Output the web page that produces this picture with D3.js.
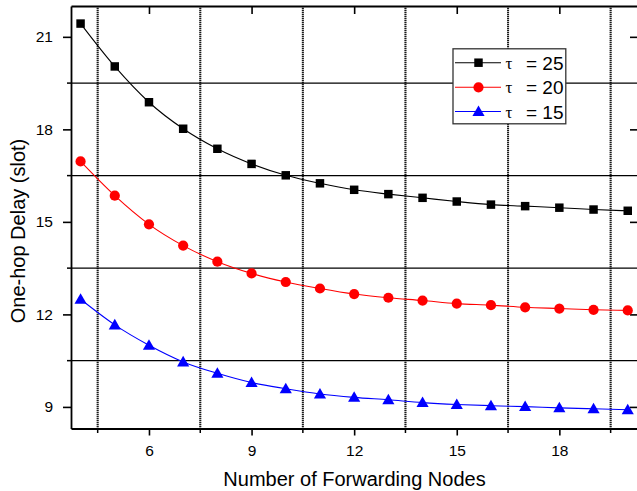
<!DOCTYPE html>
<html>
<head>
<meta charset="utf-8">
<script src="https://cdn.jsdelivr.net/npm/d3@7/dist/d3.min.js"></script>
<style>
  html, body { margin: 0; padding: 0; background: #fff; }
  svg { display: block; font-family: Arial, "Liberation Sans", sans-serif; }
</style>
</head>
<body>
<svg id="chart" width="637" height="491"></svg>
<script>
// Number of forwarding nodes
const nodes = [4, 5, 6, 7, 8, 9, 10, 11, 12, 13, 14, 15, 16, 17, 18, 19, 20];

// One-hop delay (slot) for each tau
const delayTau25 = [21.43, 20.04, 18.88, 18.02, 17.37, 16.88, 16.51, 16.25, 16.04, 15.90, 15.78, 15.66, 15.56, 15.51, 15.46, 15.40, 15.36];
const delayTau20 = [16.96, 15.85, 14.92, 14.23, 13.71, 13.33, 13.05, 12.84, 12.66, 12.54, 12.45, 12.35, 12.30, 12.23, 12.19, 12.15, 12.13];
const delayTau15 = [12.49, 11.66, 11.00, 10.46, 10.09, 9.79, 9.59, 9.42, 9.31, 9.23, 9.14, 9.08, 9.04, 9.01, 8.97, 8.94, 8.91];

const seriesNames = ["25", "20", "15"];
const seriesColors = ["#000000", "#ff0000", "#0000ff"];
const seriesShapes = ["square", "circle", "triangle"];

const xTicks = [6, 9, 12, 15, 18];
const xGrid = [4.5, 7.5, 10.5, 13.5, 16.5, 19.5];
const yTicks = [9, 12, 15, 18, 21];
const yGrid = [10.5, 13.5, 16.5, 19.5];

const svg = d3.select("#chart");
const plotL = 71, plotR = 638, plotT = 6, plotB = 428.5;

const x = d3.scaleLinear().domain([3.72, 20.3]).range([plotL, plotR]);
const y = d3.scaleLinear().domain([8.3, 22.0]).range([plotB, plotT]);

// Grid: dotted verticals (grey base with black dots), solid horizontals
const gv = svg.append("g");
gv.selectAll("line.base").data(xGrid).join("line").attr("class", "base")
  .attr("x1", d => x(d)).attr("x2", d => x(d))
  .attr("y1", plotT).attr("y2", plotB)
  .attr("stroke", "#b0b0b0").attr("stroke-width", 2);
gv.selectAll("line.dots").data(xGrid).join("line").attr("class", "dots")
  .attr("x1", d => x(d)).attr("x2", d => x(d))
  .attr("y1", plotT).attr("y2", plotB)
  .attr("stroke", "#1a1a1a").attr("stroke-width", 2)
  .attr("stroke-dasharray", "1,1");

svg.append("g").selectAll("line").data(yGrid).join("line")
  .attr("x1", plotL).attr("x2", plotR)
  .attr("y1", d => y(d)).attr("y2", d => y(d))
  .attr("stroke", "#000").attr("stroke-width", 1.1);

// Axes
const fontTick = "15.5px";
const gxb = svg.append("g").attr("transform", `translate(0,${plotB})`)
  .call(d3.axisBottom(x).tickValues(xTicks).tickSize(7).tickPadding(9).tickSizeOuter(0));
const gxt = svg.append("g").attr("transform", `translate(0,${plotT})`)
  .call(d3.axisTop(x).tickValues(xTicks).tickSize(-8).tickFormat("").tickSizeOuter(0));
const gyl = svg.append("g").attr("transform", `translate(${plotL},0)`)
  .call(d3.axisLeft(y).tickValues(yTicks).tickSize(8).tickPadding(10).tickSizeOuter(0));
const gyr = svg.append("g").attr("transform", `translate(${plotR},0)`)
  .call(d3.axisRight(y).tickValues(yTicks).tickSize(-8).tickFormat("").tickSizeOuter(0));

// Minor ticks at the grid positions
svg.append("g").selectAll("line").data(xGrid).join("line")
  .attr("x1", d => x(d)).attr("x2", d => x(d))
  .attr("y1", plotB).attr("y2", plotB + 4.5)
  .attr("stroke", "#000").attr("stroke-width", 1.5);
svg.append("g").selectAll("line").data(yGrid).join("line")
  .attr("x1", plotL - 4).attr("x2", plotL)
  .attr("y1", d => y(d)).attr("y2", d => y(d))
  .attr("stroke", "#000").attr("stroke-width", 1.5);

[gxb, gxt, gyl, gyr].forEach(g => {
  g.select(".domain").attr("stroke", "#000").attr("stroke-width", 1.8);
  g.selectAll(".tick line").attr("stroke", "#000").attr("stroke-width", 1.6);
  g.selectAll(".tick text").attr("fill", "#000").style("font-size", fontTick)
    .style("font-family", "Arial, 'Liberation Sans', sans-serif");
});

// Curves and markers
const allSeries = [delayTau25, delayTau20, delayTau15];
const line = d3.line().x((d, i) => x(nodes[i])).y(d => y(d)).curve(d3.curveMonotoneX);

const symbolFor = {
  square: d3.symbol().type(d3.symbolSquare).size(72),
  circle: d3.symbol().type(d3.symbolCircle).size(82),
  triangle: d3.symbol().type(d3.symbolTriangle).size(64)
};

allSeries.forEach((vals, si) => {
  svg.append("path").datum(vals)
    .attr("d", line).attr("fill", "none")
    .attr("stroke", seriesColors[si]).attr("stroke-width", 1.1);
  svg.append("g").selectAll("path").data(vals).join("path")
    .attr("transform", (d, i) => `translate(${x(nodes[i])},${y(d) + (seriesShapes[si] === "triangle" ? 1 : 0)})`)
    .attr("d", symbolFor[seriesShapes[si]]())
    .attr("fill", seriesColors[si]);
});

// Legend
const lg = svg.append("g");
lg.append("rect").attr("x", 453).attr("y", 48.8).attr("width", 112.8).attr("height", 75)
  .attr("fill", "#fff").attr("stroke", "#333").attr("stroke-width", 1.3);
const rowY = [62.7, 87.3, 111.5];
seriesNames.forEach((name, si) => {
  const ry = rowY[si];
  lg.append("line").attr("x1", 455).attr("x2", 501).attr("y1", ry).attr("y2", ry)
    .attr("stroke", seriesColors[si]).attr("stroke-width", 1.1);
  lg.append("path")
    .attr("transform", `translate(478.5,${ry + (seriesShapes[si] === "triangle" ? 1 : 0)})`)
    .attr("d", symbolFor[seriesShapes[si]]())
    .attr("fill", seriesColors[si]);
  lg.append("text").attr("x", 505.5).attr("y", ry + 6)
    .style("font-family", "'Liberation Serif', 'DejaVu Serif', serif").style("font-size", "17px")
    .text("τ");
  lg.append("text").attr("x", 526).attr("y", ry + 7)
    .style("font-size", "19px")
    .text("= " + name);
});

// Axis titles
svg.append("text").attr("x", (plotL + plotR) / 2).attr("y", 486)
  .attr("text-anchor", "middle").style("font-size", "20px")
  .text("Number of Forwarding Nodes");
svg.append("text").attr("transform", "translate(25,231) rotate(-90)")
  .attr("text-anchor", "middle").style("font-size", "20px")
  .text("One-hop Delay (slot)");
</script>
</body>
</html>
